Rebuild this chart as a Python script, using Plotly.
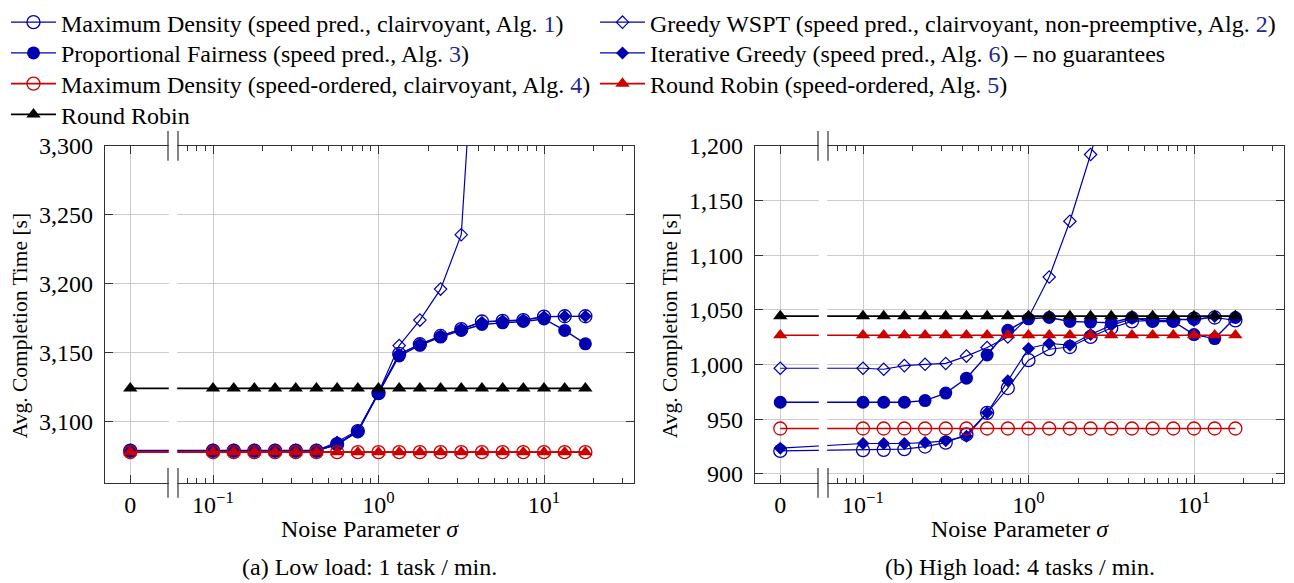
import plotly.graph_objects as go

# ---------------- data ----------------
sigma = [0, 0.1, 0.1334, 0.1778, 0.2371, 0.3162, 0.4217, 0.5623, 0.7499, 1.0,
         1.3335, 1.7783, 2.3714, 3.1623, 4.217, 5.6234, 7.4989, 10.0, 13.335, 17.783]

# (a) low load
low_md1 = [3078.8, 3078.8, 3078.8, 3078.8, 3078.8, 3078.8, 3078.8, 3083.5, 3093, 3120.5,
           3149, 3156, 3162, 3167, 3172.5, 3173, 3173.5, 3176, 3176.3, 3176.3]
low_gwspt = [3079, 3079, 3079, 3079, 3079, 3079, 3079, 3083, 3093, 3121,
             3155, 3173.5, 3196, 3235.5, 3470, None, None, None, None, None]
low_pf = [3078.5, 3078.5, 3078.5, 3078.5, 3078.5, 3078.5, 3078.5, 3083.5, 3092.3, 3120.4,
          3147.5, 3155.2, 3161.2, 3166, 3170.3, 3171.5, 3172.5, 3174.3, 3166, 3156.3]
low_ig = [3078.8, 3078.8, 3078.8, 3078.8, 3078.8, 3078.8, 3078.8, 3085, 3093.5, 3121,
          3148.5, 3156, 3162, 3167, 3172, 3173, 3173.5, 3176, 3176.3, 3176.3]
low_mdso = [3077.7] * 20
low_rrso = [3077.7] * 20
low_rr = [3124] * 20

# (b) high load
high_md1 = [921, 921.7, 922, 922.6, 925, 928.6, 936, 955.8, 978.5, 1004,
            1014, 1016, 1025.2, 1033.4, 1039.4, 1040.3, 1040.3, 1042, 1043, 1040.3]
high_gwspt = [996.6, 996.6, 995.7, 999, 1000.2, 1001, 1007.7, 1015.6, 1025.2, 1043,
              1080, 1131, 1192, 1257, None, None, None, None, None, None]
high_pf = [965.5, 965.5, 965.5, 965.5, 967, 973.9, 987.5, 1008.7, 1031.3, 1041.8,
           1043, 1039.4, 1038.8, 1038.2, 1043, 1039.4, 1039.4, 1027.4, 1023.7, 1043]
high_ig = [923.5, 927.8, 927.8, 927.8, 928.6, 930.2, 934.5, 955.8, 985.1, 1014.7,
           1019.2, 1017.7, 1027.4, 1035.8, 1042, 1042, 1042, 1040.3, 1044, 1044]
high_mdso = [941.5] * 20
high_rrso = [1026.8] * 20
high_rr = [1044.3] * 20

low_yticks = [3100, 3150, 3200, 3250, 3300]
high_yticks = [900, 950, 1000, 1050, 1100, 1150, 1200]
x_tick_labels = ["0", "10<sup>−1</sup>", "10<sup>0</sup>", "10<sup>1</sup>"]

LINK = "#1f2a8c"
names = [
    f"Maximum Density (speed pred., clairvoyant, Alg. <span style='color:{LINK}'>1</span>)",
    f"Greedy WSPT (speed pred., clairvoyant, non-preemptive, Alg. <span style='color:{LINK}'>2</span>)",
    f"Proportional Fairness (speed pred., Alg. <span style='color:{LINK}'>3</span>)",
    f"Iterative Greedy (speed pred., Alg. <span style='color:{LINK}'>6</span>) – no guarantees",
    f"Maximum Density (speed-ordered, clairvoyant, Alg. <span style='color:{LINK}'>4</span>)",
    f"Round Robin (speed-ordered, Alg. <span style='color:{LINK}'>5</span>)",
    "Round Robin",
]

# ---------------- styling ----------------
BLUE = "#0000b0"
RED = "#cc0000"
BLACK = "#000000"
styles = [
    dict(color=BLUE, width=1.2, symbol="circle-open", size=13, mlw=1.3),
    dict(color=BLUE, width=1.2, symbol="diamond-open", size=9.5, mlw=1.2),
    dict(color=BLUE, width=1.4, symbol="circle", size=13, mlw=0),
    dict(color=BLUE, width=1.2, symbol="diamond", size=10, mlw=0),
    dict(color=RED, width=1.6, symbol="circle-open", size=13, mlw=1.3),
    dict(color=RED, width=1.6, symbol="triangle-up", size=12.5, mlw=0),
    dict(color=BLACK, width=1.8, symbol="triangle-up", size=12.5, mlw=0),
]

ZERO_POS = 10 ** -1.5  # where sigma = 0 is drawn on the log axis
xs = [ZERO_POS if s == 0 else s for s in sigma]

W, H = 1294, 583
def pxx(x):
    return x / W
def pyy(y):
    return 1 - y / H

legend_ids = ["legend", "legend2", "legend3", "legend4", "legend5", "legend6", "legend7"]
# legend placement: (left px, top px) for each entry, two columns
legend_pos = [(6, -5), (595, -5), (6, 26), (595, 26), (6, 57), (595, 57), (6, 88)]

fig = go.Figure()
low = [low_md1, low_gwspt, low_pf, low_ig, low_mdso, low_rrso, low_rr]
high = [high_md1, high_gwspt, high_pf, high_ig, high_mdso, high_rrso, high_rr]
for i, (ys, st) in enumerate(zip(low, styles)):
    fig.add_trace(go.Scatter(
        x=xs, y=ys, mode="lines+markers", name=names[i], legend=legend_ids[i],
        line=dict(color=st["color"], width=st["width"]),
        marker=dict(symbol=st["symbol"], size=st["size"], color=st["color"],
                    line=dict(color=st["color"], width=st["mlw"])),
        xaxis="x", yaxis="y", showlegend=True, cliponaxis=True))
for i, (ys, st) in enumerate(zip(high, styles)):
    fig.add_trace(go.Scatter(
        x=xs, y=ys, mode="lines+markers", name=names[i],
        line=dict(color=st["color"], width=st["width"]),
        marker=dict(symbol=st["symbol"], size=st["size"], color=st["color"],
                    line=dict(color=st["color"], width=st["mlw"])),
        xaxis="x2", yaxis="y2", showlegend=False, cliponaxis=True))

minor_vals = [0.06, 0.07, 0.08, 0.09, 0.2, 0.3, 0.4, 0.5, 0.6, 0.7, 0.8, 0.9,
              2, 3, 4, 5, 6, 7, 8, 9, 20, 30]
AX = "#333333"
GRID = "#cccccc"
FONT = "Liberation Serif"

def xaxis(domain, anchor):
    return dict(type="log", range=[-1.6526, 1.5438], domain=domain, anchor=anchor,
                tickmode="array", tickvals=[ZERO_POS, 0.1, 1, 10], ticktext=x_tick_labels,
                ticks="inside", ticklen=8, tickcolor=AX, tickwidth=1,
                showgrid=True, gridcolor=GRID, gridwidth=1,
                showline=True, linecolor=AX, linewidth=1.3, mirror="ticks",
                zeroline=False, automargin=False,
                tickfont=dict(family=FONT, size=24),
                minor=dict(tickvals=minor_vals, ticks="inside", ticklen=5,
                           tickcolor=AX, tickwidth=1, showgrid=False))

def yaxis(domain, anchor, rng, tv):
    return dict(range=rng, domain=domain, anchor=anchor,
                tickmode="array", tickvals=tv, tickformat=",",
                ticks="inside", ticklen=8, tickcolor=AX, tickwidth=1,
                showgrid=True, gridcolor=GRID, gridwidth=1,
                showline=True, linecolor=AX, linewidth=1.3, mirror="ticks",
                zeroline=False, automargin=False, ticklabelstandoff=6,
                tickfont=dict(family=FONT, size=24))

ydom = [pyy(482), pyy(142)]
layout = dict(
    width=W, height=H,
    margin=dict(l=0, r=0, t=0, b=0),
    plot_bgcolor="white", paper_bgcolor="white",
    font=dict(family=FONT, size=24, color="black"),
    xaxis=xaxis([pxx(105), pxx(634)], "y"),
    yaxis=yaxis(ydom, "x", [3055.4, 3300], low_yticks),
    xaxis2=xaxis([pxx(755), pxx(1284)], "y2"),
    yaxis2=yaxis(ydom, "x2", [891.8, 1200], high_yticks),
    showlegend=True,
)
for lid, (lx, ly) in zip(legend_ids, legend_pos):
    layout[lid] = dict(x=pxx(lx), y=pyy(ly), xanchor="left", yanchor="top",
                       orientation="v", itemwidth=45, bgcolor="rgba(0,0,0,0)",
                       borderwidth=0, font=dict(family=FONT, size=24))
fig.update_layout(**layout)

shapes = []
annotations = []
captions = ["(a) Low load: 1 task / min.", "(b) High load: 4 tasks / min."]
for j, off in enumerate((0, 650)):
    xa, xb = 168 + off, 178 + off
    shapes.append(dict(type="rect", xref="paper", yref="paper",
                       x0=pxx(xa + 0.8), x1=pxx(xb - 0.8), y0=pyy(486), y1=pyy(138),
                       fillcolor="white", line=dict(width=0), layer="above"))
    for xv in (xa, xb):
        for (ya, yb) in ((127, 157), (467, 497)):
            shapes.append(dict(type="line", xref="paper", yref="paper",
                               x0=pxx(xv), x1=pxx(xv), y0=pyy(ya), y1=pyy(yb),
                               line=dict(color=AX, width=1.2), layer="above"))
    cx = 369.5 + off
    annotations.append(dict(text="Noise Parameter <i>σ</i>", x=pxx(cx), y=pyy(529),
                            xref="paper", yref="paper", showarrow=False,
                            xanchor="center", yanchor="middle",
                            font=dict(family=FONT, size=24)))
    annotations.append(dict(text=captions[j],
                            x=pxx(cx), y=pyy(567), xref="paper", yref="paper", showarrow=False,
                            xanchor="center", yanchor="middle",
                            font=dict(family=FONT, size=24)))
    annotations.append(dict(text="Avg. Completion Time [s]", x=pxx(20 + off), y=pyy(324),
                            xref="paper", yref="paper", showarrow=False, textangle=-90,
                            xanchor="center", yanchor="middle",
                            font=dict(family=FONT, size=21.5)))

fig.update_layout(shapes=shapes, annotations=annotations)
fig.write_html("out.html", config={"displayModeBar": False},
               post_script="document.body.style.margin='0';")
